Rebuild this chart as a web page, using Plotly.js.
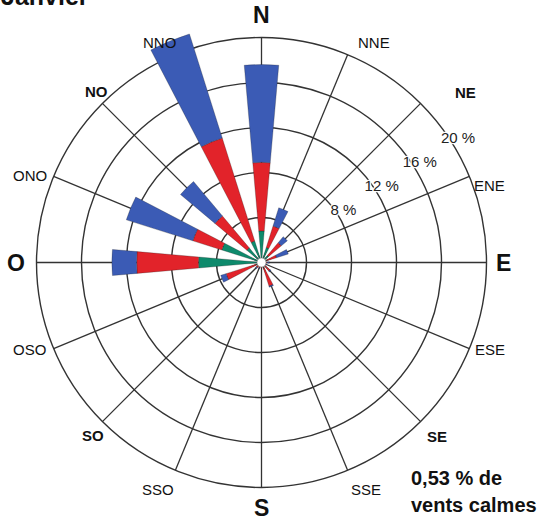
<!DOCTYPE html>
<html>
<head>
<meta charset="utf-8">
<script src="https://cdn.plot.ly/plotly-3.0.1.min.js"></script>
<style>html,body{margin:0;padding:0;background:#fff;}#chart{width:545px;height:521px;}</style>
</head>
<body>
<div id="chart"></div>
<script>
// Wind directions (clockwise from North, French labels)
const directions = ['N','NNE','NE','ENE','E','ESE','SE','SSE','S','SSO','SO','OSO','O','ONO','NO','NNO'];
// Stacked frequency segments (% of time), inner to outer
const greenSeg = [2.8,1.4,0.8,0.5,0.2,0.2,0.3,0.5,0.2,0.2,0.2,0.5,5.6,3.7,1.7,2.0];
const redSeg   = [6.1,2.0,1.5,0.9,0.3,0.2,0.7,1.7,0.3,0.3,0.4,2.8,5.5,2.7,3.7,9.6];
const blueSeg  = [8.7,1.7,0.7,1.1,0.2,0.1,0.1,0.1,0.0,0.1,0.1,0.5,2.2,6.2,4.0,9.7];
// Radial ring values and labels
const ringVals = [4,8,12,16,20];
const labelVals = [8,12,16,20];
const ringLabels = ['8 %','12 %','16 %','20 %'];
const calmText = ['0,53 % de','vents calmes'];
const title = 'Janvier';

const step = 360 / directions.length;
const theta = directions.map((d,i)=>i*step);
const major = ['N','E','S','O'];
const mid = ['NE','SE','SO','NO'];

// label placement (layout only): [radius px, angle deg] of each direction label
const labelPlace = {
  N:[247.5,0], NNE:[247,27], NE:[265,50.2], ENE:[241,71.3], E:[241.5,90], ESE:[244.7,110.9],
  SE:[246.8,134.7], SSE:[250,155.3], S:[245.5,180], SSO:[250,204.5], SO:[242,224.2],
  OSO:[247.5,249.3], O:[245.5,270], ONO:[247.5,290.7], NO:[238,316], NNO:[243,335.1]
};

const FONT = 'Liberation Sans, Arial, sans-serif';
const barW = 10;
const RMAX = 22, RGRID = 20;
function bar(vals, color){
  return {type:'barpolar', r: vals, theta: theta, width: barW,
    marker:{color: color, line:{color:'rgba(30,30,30,0.45)', width:0.6}},
    hoverinfo:'skip', showlegend:false};
}
const traces = [
  bar(greenSeg,'#0e8a6c'),
  bar(redSeg,'#e2232a'),
  bar(blueSeg,'#3b5bb5'),
  {type:'scatterpolar', mode:'markers', r:[0], theta:[0], cliponaxis:false,
   marker:{size:9, color:'#fff', line:{color:'#888', width:0.6}}, hoverinfo:'skip', showlegend:false},
  {type:'scatterpolar', mode:'text', r: labelVals.map(v=>v+0.6), theta: labelVals.map(()=>58), cliponaxis:false,
   text: ringLabels, textposition:'middle center',
   textfont:{family:FONT, color:'#222', size:15,
     shadow:'1px 0 1px #fff, -1px 0 1px #fff, 0 1px 1px #fff, 0 -1px 1px #fff, 1px 1px 1px #fff, -1px -1px 1px #fff, 1px -1px 1px #fff, -1px 1px 1px #fff'},
   hoverinfo:'skip', showlegend:false}
];

const W = 545, H = 521;
const cx = 261.5, cy = 262.5, R20 = 225;
const R = R20 * RMAX / RGRID;
// spokes drawn beneath the polar area, ending at the 20 % circle
const shapes = theta.map(t => {
  const a = t * Math.PI / 180;
  return {type:'line', xref:'paper', yref:'paper', layer:'below',
    x0: cx/W, y0: 1-cy/H,
    x1: (cx + R20*Math.sin(a))/W, y1: 1-(cy - R20*Math.cos(a))/H,
    line:{color:'#333', width:1.3}};
});
const dirAnnotations = directions.map(d => {
  const [rp, ang] = labelPlace[d];
  const a = ang * Math.PI / 180;
  const bold = major.includes(d) || mid.includes(d);
  return {text: bold ? '<b>'+d+'</b>' : d, xref:'paper', yref:'paper',
    x: (cx + rp*Math.sin(a))/W, y: 1-(cy - rp*Math.cos(a))/H,
    xanchor:'center', yanchor:'middle', showarrow:false,
    font:{family:FONT, size: major.includes(d)?23:15, color:'#111'}};
});
const layout = {
  width: W, height: H,
  margin:{l:0,r:0,t:0,b:0},
  paper_bgcolor:'#fff',
  showlegend:false,
  font:{family:FONT},
  shapes: shapes,
  polar:{
    domain:{x:[(cx-R)/W,(cx+R)/W], y:[1-(cy+R)/H, 1-(cy-R)/H]},
    bgcolor:'rgba(0,0,0,0)',
    barmode:'stack',
    radialaxis:{range:[0,RMAX], tickvals:ringVals, showticklabels:false, ticks:'',
      showline:false, gridcolor:'#333', gridwidth:1.4, layer:'below traces'},
    angularaxis:{direction:'clockwise', rotation:90, showticklabels:false, ticks:'',
      showline:false, showgrid:false, layer:'below traces'}
  },
  annotations: dirAnnotations.concat([
    {text:'<b>'+title+'</b>', xref:'paper', yref:'paper', x:0, y:1-12/H, xanchor:'left', yanchor:'bottom',
     showarrow:false, font:{family:FONT, size:25, color:'#111'}, xshift:-1},
    {text:'<b>'+calmText[0]+'</b>', xref:'paper', yref:'paper', x:409/W, y:1-478/H, xanchor:'left', yanchor:'middle',
     showarrow:false, font:{family:FONT, size:20, color:'#111'}},
    {text:'<b>'+calmText[1]+'</b>', xref:'paper', yref:'paper', x:409/W, y:1-505/H, xanchor:'left', yanchor:'middle',
     showarrow:false, font:{family:FONT, size:20, color:'#111'}}
  ])
};
Plotly.newPlot('chart', traces, layout, {displayModeBar:false, staticPlot:true});
</script>
</body>
</html>
